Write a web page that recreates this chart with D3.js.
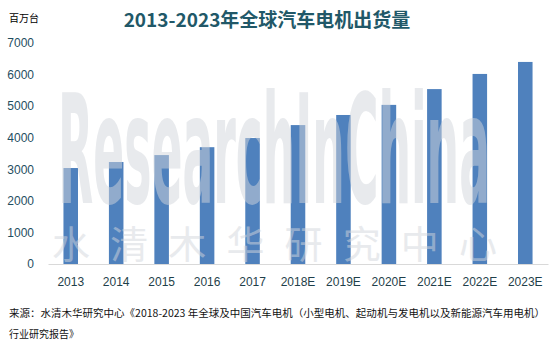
<!DOCTYPE html>
<html>
<head>
<meta charset="utf-8">
<script src="https://cdn.jsdelivr.net/npm/d3@7"></script>
<style>
  body { margin: 0; background: #fff; }
  svg { display: block; font-family: "Liberation Sans", Arial, sans-serif; }
</style>
</head>
<body>
<svg id="chart" width="551" height="352"></svg>
<script>
// data (million units)
const years = ["2013", "2014", "2015", "2016", "2017", "2018E", "2019E", "2020E", "2021E", "2022E", "2023E"];
const shipments = [3040, 3230, 3450, 3700, 3990, 4400, 4720, 5040, 5540, 6020, 6400];
const yTicks = [0, 1000, 2000, 3000, 4000, 5000, 6000, 7000];

const svg = d3.select("#chart");
const cjk = "'Noto Sans CJK SC', sans-serif";

const x = d3.scaleBand()
  .domain(years)
  .range([48, 548])
  .paddingInner(0.68)
  .paddingOuter(0.34);

const y = d3.scaleLinear()
  .domain([0, 7000])
  .range([264, 43]);

// title
svg.append("text")
  .attr("x", 267)
  .attr("y", 27)
  .attr("text-anchor", "middle")
  .style("font-family", cjk)
  .style("font-size", "19px")
  .style("font-weight", "bold")
  .style("fill", "#215868")
  .text("2013-2023年全球汽车电机出货量");

// unit label
svg.append("text")
  .attr("x", 9)
  .attr("y", 22)
  .style("font-family", cjk)
  .style("font-size", "10px")
  .style("fill", "#000")
  .text("百万台");

// bars
svg.append("g")
  .selectAll("rect")
  .data(shipments)
  .enter()
  .append("rect")
  .attr("x", (d, i) => x(years[i]))
  .attr("y", (d) => y(d))
  .attr("width", x.bandwidth())
  .attr("height", (d) => y(0) - y(d))
  .attr("fill", "#4f81bd");

// y axis, labels only
const yAxis = svg.append("g")
  .attr("transform", "translate(34,0)")
  .call(d3.axisLeft(y).tickValues(yTicks).tickFormat(d3.format("d")).tickSize(0).tickPadding(0));
yAxis.select(".domain").remove();
yAxis.selectAll("text")
  .style("font-size", "12px")
  .style("font-family", "'Liberation Sans', Arial, sans-serif")
  .style("fill", "#1f4e5f");

// x axis
const xAxis = svg.append("g")
  .attr("transform", `translate(0,${y(0)})`)
  .call(d3.axisBottom(x).tickSize(0).tickPadding(13));
xAxis.select(".domain").attr("stroke", "#d9d9d9").attr("stroke-width", 1.2);
xAxis.selectAll("text")
  .style("font-size", "12px")
  .style("font-family", "'Liberation Sans', Arial, sans-serif")
  .style("fill", "#1f3f4a");

// watermark, drawn over the bars
const wm = svg.append("g").style("pointer-events", "none");
const wmText = wm.append("text")
  .style("font-family", "'DejaVu Sans Condensed', 'DejaVu Sans', sans-serif")
  .style("font-size", "152px")
  .style("font-weight", "bold")
  .style("fill", "#d2d6dc")
  .style("opacity", 0.5)
  .text("ResearchInChina");
// squeeze the word into the plot width
const wmW = wmText.node().getComputedTextLength();
wmText.attr("transform", `translate(58,203) scale(${432 / wmW},1)`);

wm.append("text")
  .attr("x", 52)
  .attr("y", 258)
  .attr("textLength", 445)
  .attr("lengthAdjust", "spacing")
  .style("font-family", cjk)
  .style("font-size", "38px")
  .style("fill", "#d2d6dc")
  .style("opacity", 0.5)
  .text("水清木华研究中心");

// source note
const src = svg.append("g")
  .style("font-family", cjk)
  .style("font-size", "10px")
  .style("fill", "#111");
src.append("text")
  .attr("x", 9)
  .attr("y", 317)
  .attr("textLength", 536)
  .attr("lengthAdjust", "spacingAndGlyphs")
  .text("来源：水清木华研究中心《2018-2023 年全球及中国汽车电机（小型电机、起动机与发电机以及新能源汽车用电机）");
src.append("text")
  .attr("x", 9)
  .attr("y", 338)
  .text("行业研究报告》");
</script>
</body>
</html>
